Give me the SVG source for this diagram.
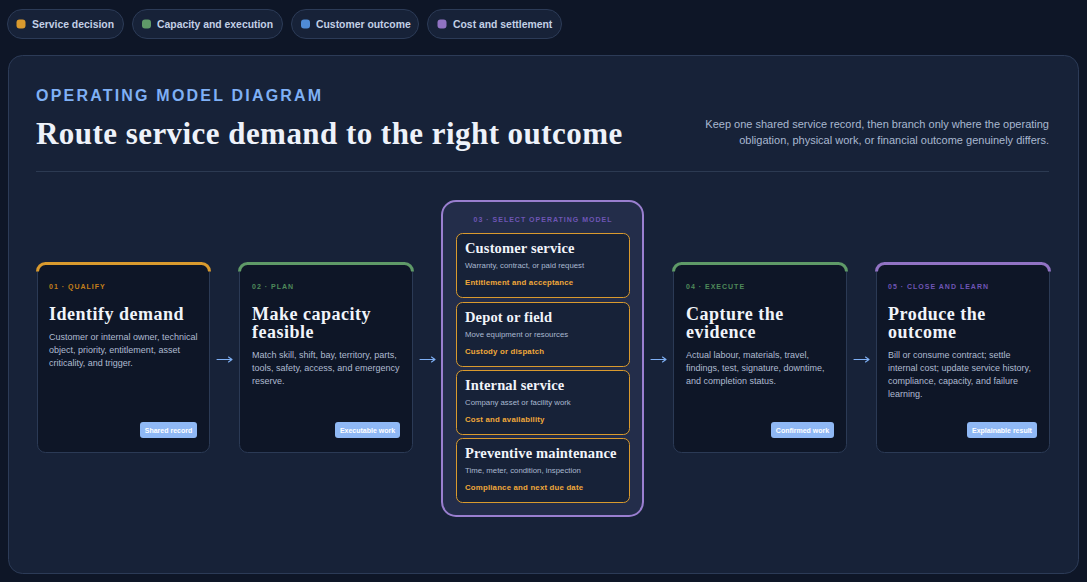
<svg xmlns="http://www.w3.org/2000/svg" width="1087" height="582" viewBox="0 0 1087 582">
<defs>
<style>
.pill{fill:#172238;stroke:#2c3b57;stroke-width:1}
.pt{font-family:"Liberation Sans",Arial,sans-serif;font-weight:bold;font-size:10.4px;fill:#c3d0e6}
.kick{font-family:"Liberation Sans",Arial,sans-serif;font-weight:bold;font-size:16px;letter-spacing:2.2px;fill:#7fb0f5}
.head{font-family:"Liberation Serif","DejaVu Serif",serif;font-weight:bold;font-size:31px;letter-spacing:0.45px;fill:#eef2fa}
.sub{font-family:"Liberation Sans",Arial,sans-serif;font-size:11px;fill:#a9b8d0}
.card{fill:#0e1627;stroke:#2b3a55;stroke-width:1}
.lab{font-family:"Liberation Sans",Arial,sans-serif;font-weight:bold;font-size:7px;letter-spacing:1px}
.ct{font-family:"Liberation Serif","DejaVu Serif",serif;font-weight:bold;font-size:18px;letter-spacing:0.5px;fill:#f1f4fa}
.cb{font-family:"Liberation Sans",Arial,sans-serif;font-size:9px;fill:#aebbd1}
.badge{fill:#8fb8f5}
.bt{font-family:"Liberation Sans",Arial,sans-serif;font-weight:bold;font-size:7px;fill:#ffffff;text-anchor:middle}
.sc{fill:#172238;stroke:#d99a2e;stroke-width:1}
.st{font-family:"Liberation Serif","DejaVu Serif",serif;font-weight:bold;font-size:14.5px;letter-spacing:0.15px;fill:#f1f4fa}
.ss{font-family:"Liberation Sans",Arial,sans-serif;font-size:7.8px;fill:#a9b8d0}
.sg{font-family:"Liberation Sans",Arial,sans-serif;font-weight:bold;font-size:7.8px;letter-spacing:0.2px;fill:#f0a83a}
.arr{fill:none;stroke:#7fb0f5;stroke-width:1.1;stroke-linecap:round;stroke-linejoin:round}
</style>
</defs>
<rect width="1087" height="582" fill="#0e1627"/>
<g id="legend">
<rect class="pill" x="7.5" y="9.5" width="116" height="29" rx="14.5"/>
<rect x="16.5" y="19.5" width="9" height="9" rx="3" fill="#d99a2e"/>
<text class="pt" x="32" y="27.5">Service decision</text>
<rect class="pill" x="132.5" y="9.5" width="150" height="29" rx="14.5"/>
<rect x="142" y="19.5" width="9" height="9" rx="3" fill="#5f9a68"/>
<text class="pt" x="157" y="27.5">Capacity and execution</text>
<rect class="pill" x="291.5" y="9.5" width="127" height="29" rx="14.5"/>
<rect x="301" y="19.5" width="9" height="9" rx="3" fill="#4f8bd6"/>
<text class="pt" x="316" y="27.5">Customer outcome</text>
<rect class="pill" x="427.5" y="9.5" width="134" height="29" rx="14.5"/>
<rect x="437.5" y="19.5" width="9" height="9" rx="3" fill="#9173c4"/>
<text class="pt" x="453" y="27.5">Cost and settlement</text>
</g>
<g id="panel">
<rect x="8.5" y="55.5" width="1070" height="518" rx="14" fill="#172238" stroke="#2c3b57"/>
<text class="kick" x="36" y="101">OPERATING MODEL DIAGRAM</text>
<text class="head" x="36" y="143.5">Route service demand to the right outcome</text>
<text class="sub" x="1049" y="128" text-anchor="end">Keep one shared service record, then branch only where the operating</text>
<text class="sub" x="1049" y="144" text-anchor="end">obligation, physical work, or financial outcome genuinely differs.</text>
<line x1="36" y1="171.5" x2="1049" y2="171.5" stroke="#2c3a52"/>
</g>
<g id="connectors">
<path class="arr" d="M217 359.5 H232 M228.5 357 L232 359.5 L228.5 362"/>
<path class="arr" d="M420 359.5 H435 M431.5 357 L435 359.5 L431.5 362"/>
<path class="arr" d="M651 359.5 H666 M662.5 357 L666 359.5 L662.5 362"/>
<path class="arr" d="M854 359.5 H869 M865.5 357 L869 359.5 L865.5 362"/>
</g>
<g id="step1">
<rect class="card" x="37.5" y="263.5" width="172" height="189" rx="8"/>
<path d="M37.5 271.5 a8 8 0 0 1 8 -8 h156 a8 8 0 0 1 8 8" fill="none" stroke="#d99a2e" stroke-width="3"/>
<text class="lab" x="49" y="289" fill="#c47f1a">01 · QUALIFY</text>
<text class="ct" x="49" y="320">Identify demand</text>
<text class="cb" x="49" y="340">Customer or internal owner, technical</text>
<text class="cb" x="49" y="353">object, priority, entitlement, asset</text>
<text class="cb" x="49" y="366">criticality, and trigger.</text>
<rect class="badge" x="140" y="422" width="57" height="16" rx="3"/>
<text class="bt" x="168.5" y="432.5">Shared record</text>
</g>
<g id="step2">
<rect class="card" x="239.5" y="263.5" width="173" height="189" rx="8"/>
<path d="M239.5 271.5 a8 8 0 0 1 8 -8 h157 a8 8 0 0 1 8 8" fill="none" stroke="#5f9a68" stroke-width="3"/>
<text class="lab" x="252" y="289" fill="#4f8a5a">02 · PLAN</text>
<text class="ct" x="252" y="320">Make capacity</text>
<text class="ct" x="252" y="338">feasible</text>
<text class="cb" x="252" y="358">Match skill, shift, bay, territory, parts,</text>
<text class="cb" x="252" y="371">tools, safety, access, and emergency</text>
<text class="cb" x="252" y="384">reserve.</text>
<rect class="badge" x="335" y="422" width="65" height="16" rx="3"/>
<text class="bt" x="367.5" y="432.5">Executable work</text>
</g>
<g id="step3">
<rect x="442" y="201" width="201" height="315" rx="14" fill="#232d4a" stroke="#9a7fd0" stroke-width="2"/>
<text class="lab" x="543" y="221.5" fill="#6e55b5" text-anchor="middle">03 · SELECT OPERATING MODEL</text>
<g id="model-customer">
<rect class="sc" x="456.5" y="233.5" width="173" height="64" rx="6"/>
<text class="st" x="465" y="253">Customer service</text>
<text class="ss" x="465" y="268">Warranty, contract, or paid request</text>
<text class="sg" x="465" y="285">Entitlement and acceptance</text>
</g>
<g id="model-depot">
<rect class="sc" x="456.5" y="302.5" width="173" height="64" rx="6"/>
<text class="st" x="465" y="322">Depot or field</text>
<text class="ss" x="465" y="337">Move equipment or resources</text>
<text class="sg" x="465" y="354">Custody or dispatch</text>
</g>
<g id="model-internal">
<rect class="sc" x="456.5" y="370.5" width="173" height="64" rx="6"/>
<text class="st" x="465" y="390">Internal service</text>
<text class="ss" x="465" y="405">Company asset or facility work</text>
<text class="sg" x="465" y="422">Cost and availability</text>
</g>
<g id="model-preventive">
<rect class="sc" x="456.5" y="438.5" width="173" height="64" rx="6"/>
<text class="st" x="465" y="458">Preventive maintenance</text>
<text class="ss" x="465" y="473">Time, meter, condition, inspection</text>
<text class="sg" x="465" y="490">Compliance and next due date</text>
</g>
</g>
<g id="step4">
<rect class="card" x="673.5" y="263.5" width="173" height="189" rx="8"/>
<path d="M673.5 271.5 a8 8 0 0 1 8 -8 h157 a8 8 0 0 1 8 8" fill="none" stroke="#5f9a68" stroke-width="3"/>
<text class="lab" x="686" y="289" fill="#4f8a5a">04 · EXECUTE</text>
<text class="ct" x="686" y="320">Capture the</text>
<text class="ct" x="686" y="338">evidence</text>
<text class="cb" x="686" y="358">Actual labour, materials, travel,</text>
<text class="cb" x="686" y="371">findings, test, signature, downtime,</text>
<text class="cb" x="686" y="384">and completion status.</text>
<rect class="badge" x="771" y="422" width="63" height="16" rx="3"/>
<text class="bt" x="802.5" y="432.5">Confirmed work</text>
</g>
<g id="step5">
<rect class="card" x="876.5" y="263.5" width="173" height="189" rx="8"/>
<path d="M876.5 271.5 a8 8 0 0 1 8 -8 h157 a8 8 0 0 1 8 8" fill="none" stroke="#9173c4" stroke-width="3"/>
<text class="lab" x="888" y="289" fill="#6e55b5">05 · CLOSE AND LEARN</text>
<text class="ct" x="888" y="320">Produce the</text>
<text class="ct" x="888" y="338">outcome</text>
<text class="cb" x="888" y="358">Bill or consume contract; settle</text>
<text class="cb" x="888" y="371">internal cost; update service history,</text>
<text class="cb" x="888" y="384">compliance, capacity, and failure</text>
<text class="cb" x="888" y="397">learning.</text>
<rect class="badge" x="967" y="422" width="70" height="16" rx="3"/>
<text class="bt" x="1002" y="432.5">Explainable result</text>
</g>
</svg>
